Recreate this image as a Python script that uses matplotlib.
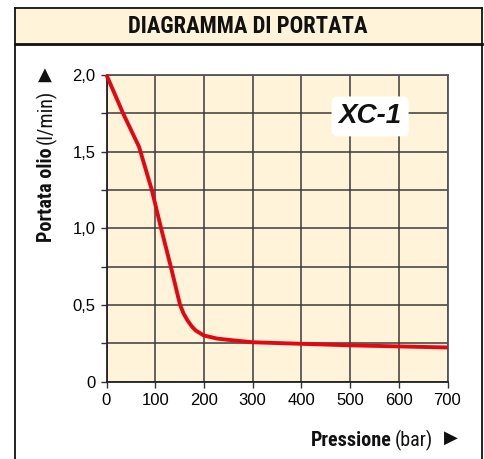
import matplotlib
matplotlib.use("Agg")
import matplotlib.pyplot as plt
from matplotlib.patches import Rectangle
from matplotlib.lines import Line2D

# ---- data ----
pressione = [0, 34, 67, 93, 112, 132, 151, 158, 166, 175, 183, 200, 227, 256, 300, 400, 500, 600, 700]
portata = [2.0, 1.75, 1.53, 1.25, 1.0, 0.75, 0.5, 0.445, 0.4, 0.36, 0.333, 0.30, 0.28, 0.27, 0.256, 0.246, 0.236, 0.229, 0.222]
x_ticks = [0, 100, 200, 300, 400, 500, 600, 700]
x_labels = ["0", "100", "200", "300", "400", "500", "600", "700"]
y_ticks = [0, 0.5, 1.0, 1.5, 2.0]
y_labels = ["0", "0,5", "1,0", "1,5", "2,0"]
y_minor = [0.25, 0.75, 1.25, 1.75]
title = "DIAGRAMMA DI PORTATA"
model = "XC-1"
x_label_bold, x_label_unit = "Pressione", "(bar)"
y_label_bold, y_label_unit = "Portata olio", "(l/min)"

W, H = 484, 459
BG = "#FFF4D9"
RED = "#E30613"
COND = ["Roboto Condensed", "DejaVu Sans"]
SANS = ["Liberation Sans", "DejaVu Sans"]
INK = "#111111"

fig = plt.figure(figsize=(W / 100, H / 100), dpi=100)
fig.patch.set_facecolor("white")

def fx(px):
    return px / W

def fy(py):
    return 1 - py / H

# outer frame and title box
fig.add_artist(Rectangle((fx(15), fy(44)), fx(482) - fx(15), fy(8) - fy(44),
                         transform=fig.transFigure, facecolor=BG, edgecolor="none", zorder=0))
for (x0, y0, x1, y1, lw) in [(15, 8, 482, 8, 1.3), (15, 44, 482, 44, 2.0),
                             (15, 8, 15, 470, 1.3), (482, 8, 482, 470, 1.3)]:
    fig.add_artist(Line2D([fx(x0), fx(x1)], [fy(y0), fy(y1)], transform=fig.transFigure,
                          color=INK, lw=lw, zorder=1))
fig.text(fx(248), fy(26.5), title, ha="center", va="center", fontsize=16.3,
         fontweight="bold", family=COND, color=INK)

# axes
ax = fig.add_axes([fx(106.5), fy(381.5), fx(447.5) - fx(106.5), fy(75) - fy(381.5)])
ax.set_facecolor(BG)
ax.set_xlim(0, 700)
ax.set_ylim(0, 2.0)
ax.set_xticks(x_ticks)
ax.set_xticklabels(x_labels)
ax.set_yticks(y_ticks)
ax.set_yticklabels(y_labels)
ax.set_yticks(y_minor, minor=True)
ax.tick_params(axis="both", which="both", direction="out", length=4, width=1.0,
               color="#333333", labelsize=12, pad=4)
for lab in ax.get_xticklabels() + ax.get_yticklabels():
    lab.set_family(SANS)
ax.grid(True, which="both", color="#3a3a3a", lw=1.1)
ax.set_axisbelow(True)
for s in ax.spines.values():
    s.set_color("#555555")
    s.set_linewidth(1.3)
ax.spines["left"].set_color("#222222")
ax.spines["bottom"].set_color("#222222")

ax.plot(pressione, portata, color=RED, lw=2.8, solid_capstyle="butt",
        solid_joinstyle="round", zorder=3, clip_on=False)

# model badge
ax.text(0.773, 0.865, model, transform=ax.transAxes, ha="center", va="center",
        fontsize=20, fontweight="bold", fontstyle="italic", family=SANS, color=INK,
        bbox=dict(boxstyle="round,pad=0.25,rounding_size=0.2", facecolor="white", edgecolor="none"),
        zorder=5)

# axis labels assembled from pieces (anchored at the arrow end)
fig.canvas.draw()
r = fig.canvas.get_renderer()

# x label
fig.text(fx(451), fy(438), "\u25B6", ha="center", va="center", fontsize=13,
         family=["DejaVu Sans"], color=INK)
t2 = fig.text(fx(433), fy(446), x_label_unit, ha="right", va="baseline", fontsize=14.5,
              family=COND, color=INK)
bb = t2.get_window_extent(r)
fig.text((bb.x0 - 3) / W, fy(446), x_label_bold, ha="right", va="baseline", fontsize=14.5,
         fontweight="bold", family=COND, color=INK)

# y label (rotated)
fig.text(fx(45), fy(75), "\u25B2", ha="center", va="center", fontsize=13,
         family=["DejaVu Sans"], color=INK)
ty2 = fig.text(fx(52), fy(90), y_label_unit, ha="right", va="baseline", rotation=90,
               rotation_mode="anchor", fontsize=14.5, family=COND, color=INK)
bb = ty2.get_window_extent(r)
fig.text(fx(52), (bb.y0 - 3) / H, y_label_bold, ha="right", va="baseline", rotation=90,
         rotation_mode="anchor", fontsize=14.5, fontweight="bold", family=COND, color=INK)

fig.savefig("out.png", dpi=100, facecolor="white")
